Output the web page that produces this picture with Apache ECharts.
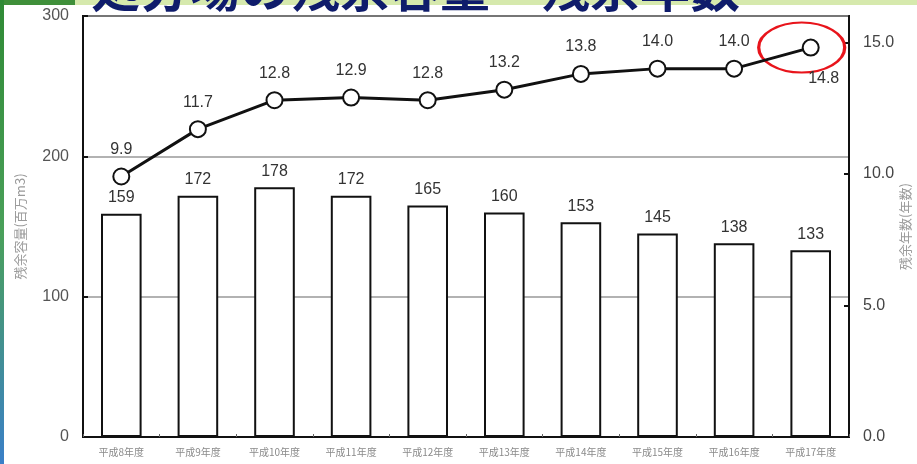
<!DOCTYPE html>
<html>
<head>
<meta charset="utf-8">
<script src="https://cdn.jsdelivr.net/npm/echarts@6/dist/echarts.min.js"></script>
<style>
html,body{margin:0;padding:0;background:#fff;}
#chart{width:917px;height:464px;}
</style>
</head>
<body>
<div id="chart"></div>
<script>
const categories = ['平成8年度','平成9年度','平成10年度','平成11年度','平成12年度','平成13年度','平成14年度','平成15年度','平成16年度','平成17年度'];
const capacity = [159, 172, 178, 172, 165, 160, 153, 145, 138, 133];
const years = [9.9, 11.7, 12.8, 12.9, 12.8, 13.2, 13.8, 14.0, 14.0, 14.8];
const titleText = '処分場の残余容量・残余年数';
const leftAxisName = '残余容量(百万m3)';
const rightAxisName = '残余年数(年数)';

const chart = echarts.init(document.getElementById('chart'), null, {renderer:'canvas'});
const lastIdx = years.length - 1;
const lineData = years.map((v, i) => i === lastIdx
  ? {value: v, label: {position: 'bottom', distance: 14, offset: [13, 0]}}
  : v);

chart.setOption({
  backgroundColor: '#fff',
  animation: false,
  graphic: [
    {type:'rect', z:-10, shape:{x:0,y:0,width:917,height:5}, style:{fill:'#d6e9ad'}},
    {type:'rect', z:-9, shape:{x:0,y:0,width:75,height:5}, style:{fill:'#3f8f3a'}},
    {type:'rect', z:-9, shape:{x:0,y:0,width:4,height:464}, style:{fill:new echarts.graphic.LinearGradient(0,0,0,1,[{offset:0,color:'#2f8a35'},{offset:0.5,color:'#4aa05a'},{offset:1,color:'#3a7fc8'}])}}
  ],
  title: {
    text: titleText,
    left: 85,
    top: -42,
    textStyle: {fontFamily:'Noto Sans CJK JP', fontSize: 50, fontWeight: 'bold', color: '#0f1c6b'}
  },
  grid: {left: 83, right: 68, top: 16, bottom: 27, containLabel: false, outerBoundsMode: 'none', show: true, borderColor: '#111', borderWidth: 2, backgroundColor: 'transparent'},
  xAxis: {
    type: 'category',
    data: categories,
    boundaryGap: true,
    axisLine: {lineStyle: {color: '#111', width: 2}},
    axisTick: {show: true, inside: true, length: 3, lineStyle: {color: '#666'}},
    axisLabel: {fontSize: 10, color: '#8a8a8a', margin: 10, fontFamily: 'Noto Sans CJK JP'}
  },
  yAxis: [
    {
      type: 'value', min: 0, max: 300, interval: 100,
      name: leftAxisName, nameLocation: 'middle', nameRotate: 90, nameGap: 56,
      nameTextStyle: {fontSize: 13, color: '#9a9a9a', fontFamily: 'Noto Sans CJK JP'},
      axisLine: {show: true, lineStyle: {color: '#111', width: 2}},
      axisTick: {show: true, inside: true, length: 5, lineStyle: {color: '#111', width: 2}},
      axisLabel: {fontSize: 16, color: '#555', margin: 14, fontFamily: 'Liberation Sans'},
      splitLine: {show: true, lineStyle: {color: '#999', width: 1.5}}
    },
    {
      type: 'value', min: 0, max: 16, interval: 5,
      name: rightAxisName, nameLocation: 'middle', nameRotate: 90, nameGap: 50, nameMoveOverlap: false,
      nameTextStyle: {fontSize: 13, color: '#9a9a9a', fontFamily: 'Noto Sans CJK JP'},
      axisLine: {show: true, lineStyle: {color: '#111', width: 2}},
      axisTick: {show: true, inside: true, length: 5, lineStyle: {color: '#111', width: 2}},
      axisLabel: {fontSize: 16, color: '#444', margin: 14, showMaxLabel: false, fontFamily: 'Liberation Sans',
        formatter: v => v === 16 ? '' : v.toFixed(1)},
      splitLine: {show: false}
    }
  ],
  series: [
    {
      type: 'bar',
      data: capacity,
      barWidth: '53%',
      itemStyle: {color: '#fff', borderColor: '#111', borderWidth: 2},
      label: {show: true, position: 'top', distance: 8, fontSize: 16, color: '#333', fontFamily: 'Liberation Sans'},
      z: 2
    },
    {
      type: 'line',
      yAxisIndex: 1,
      data: lineData,
      symbol: 'circle',
      symbolSize: 16,
      lineStyle: {color: '#111', width: 3},
      itemStyle: {color: '#fff', borderColor: '#111', borderWidth: 2},
      label: {show: true, position: 'top', distance: 10, fontSize: 16, color: '#333', fontFamily: 'Liberation Sans',
        formatter: p => p.value.toFixed(1)},
      z: 5,
      markPoint: {
        symbol: 'circle',
        symbolSize: [86, 50],
        symbolOffset: [-9, 0],
        silent: true,
        label: {show: false},
        itemStyle: {color: 'rgba(0,0,0,0)', borderColor: '#e8141b', borderWidth: 2.5},
        data: [{coord: [lastIdx, years[lastIdx]]}]
      }
    }
  ]
});
</script>
</body>
</html>
